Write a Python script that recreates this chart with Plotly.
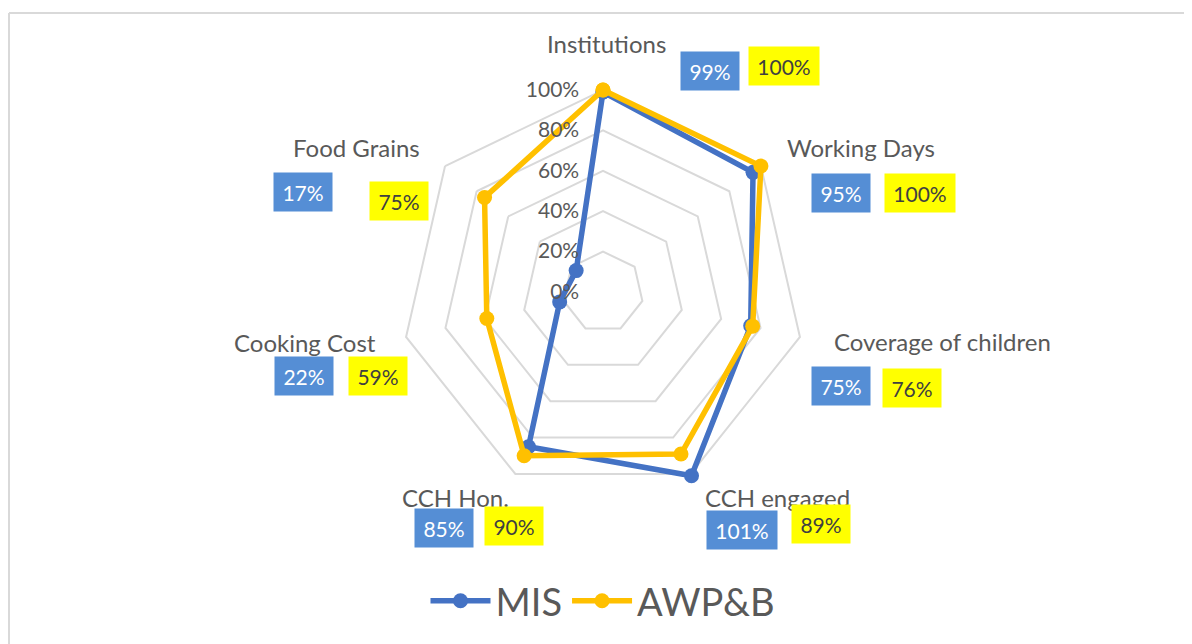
import plotly.graph_objects as go

# ---- data ----
categories = ["Institutions", "Working Days", "Coverage of children", "CCH engaged",
              "CCH Hon.", "Cooking Cost", "Food Grains"]
mis_values = [99, 95, 75, 101, 85, 22, 17]
awpb_values = [100, 100, 76, 89, 90, 59, 75]
radial_ticks = [0, 20, 40, 60, 80, 100]
radial_tick_labels = ["0%", "20%", "40%", "60%", "80%", "100%"]

# ---- layout helpers (pixel positions in the 1192x644 window) ----
WIN_W, WIN_H = 1192, 644
OFF = 8  # browser body margin
W, H = WIN_W - OFF, WIN_H - OFF
category_label_pos = [(606, 43), (861, 147), (942, 341), (777, 497), (455, 497), (305, 342), (356, 147)]
mis_label_pos = [(710, 71), (841, 193), (841, 386), (742, 530), (444, 528), (304, 376), (303, 192)]
awpb_label_pos = [(784, 66), (920, 193), (912, 388), (821, 524), (514, 526), (378, 376), (399, 201)]
center_px = (603, 292)
radius_100_px = 202   # pixel radius of the 100% ring
R_MAX = 102           # radial range max (so the 101% point is not dropped)
radius_px = radius_100_px * R_MAX / 100

FONT = "Lato"
GREY = "#595959"
BLUE = "#4472C4"
GOLD = "#FFC000"

fig = go.Figure()
fig.add_trace(go.Scatterpolar(
    r=mis_values + mis_values[:1], theta=categories + categories[:1],
    mode="lines+markers", name="MIS", cliponaxis=False,
    line=dict(color=BLUE, width=5.5), marker=dict(color=BLUE, size=15),
))
fig.add_trace(go.Scatterpolar(
    r=awpb_values + awpb_values[:1], theta=categories + categories[:1],
    mode="lines+markers", name="AWP&B", cliponaxis=False,
    line=dict(color=GOLD, width=5.5), marker=dict(color=GOLD, size=15),
))


def px_to_paper(x, y):
    return (x - OFF) / W, 1 - (y - OFF) / H


annotations = []
for cat, (x, y) in zip(categories, category_label_pos):
    px, py = px_to_paper(x, y)
    annotations.append(dict(
        x=px, y=py, xref="paper", yref="paper", text=cat, showarrow=False,
        font=dict(family=FONT, size=24, color=GREY), xanchor="center", yanchor="middle",
    ))
for vals, pos, bg, fg in [(mis_values, mis_label_pos, "#558ED5", "white"),
                          (awpb_values, awpb_label_pos, "#FFFF00", "#404040")]:
    for v, (x, y) in zip(vals, pos):
        px, py = px_to_paper(x, y)
        txt = f"{v}%"
        annotations.append(dict(
            x=px, y=py, xref="paper", yref="paper", text=txt, showarrow=False,
            font=dict(family=FONT, size=21, color=fg), bgcolor=bg,
            width=58 if len(txt) <= 3 else 70, height=38, borderpad=0,
            xanchor="center", yanchor="middle",
        ))

cx, cy = center_px
x0, y_top = px_to_paper(cx - radius_px, cy - radius_px)
x1, y_bot = px_to_paper(cx + radius_px, cy + radius_px)
bx, by = px_to_paper(OFF + 1, 13)

fig.update_layout(
    width=W, height=H,
    margin=dict(l=0, r=0, t=0, b=0),
    paper_bgcolor="white",
    font=dict(family=FONT, color=GREY),
    showlegend=True,
    legend=dict(orientation="h", x=px_to_paper(603, 0)[0], xanchor="center",
                y=px_to_paper(0, 601)[1], yanchor="middle",
                font=dict(family=FONT, size=38, color=GREY), itemwidth=60),
    polar=dict(
        domain=dict(x=[x0, x1], y=[y_bot, y_top]),
        bgcolor="white",
        gridshape="linear",
        radialaxis=dict(
            range=[0, R_MAX], tickvals=radial_ticks, ticktext=radial_tick_labels,
            angle=90, side="counterclockwise", tickangle=90,
            showline=False, gridcolor="#D9D9D9", gridwidth=1.8,
            ticks="outside", ticklen=16, tickcolor="rgba(0,0,0,0)",
            tickfont=dict(family=FONT, size=21, color=GREY),
        ),
        angularaxis=dict(
            direction="clockwise", rotation=90,
            showgrid=False, showline=False,
            ticks="", showticklabels=False,
        ),
    ),
    annotations=annotations,
    shapes=[
        dict(type="line", xref="paper", yref="paper", x0=bx, x1=1.01, y0=by, y1=by,
             line=dict(color="#D9D9D9", width=2)),
        dict(type="line", xref="paper", yref="paper", x0=bx, x1=bx, y0=-0.01, y1=by,
             line=dict(color="#D9D9D9", width=2)),
    ],
)

fig.write_html("out.html")
